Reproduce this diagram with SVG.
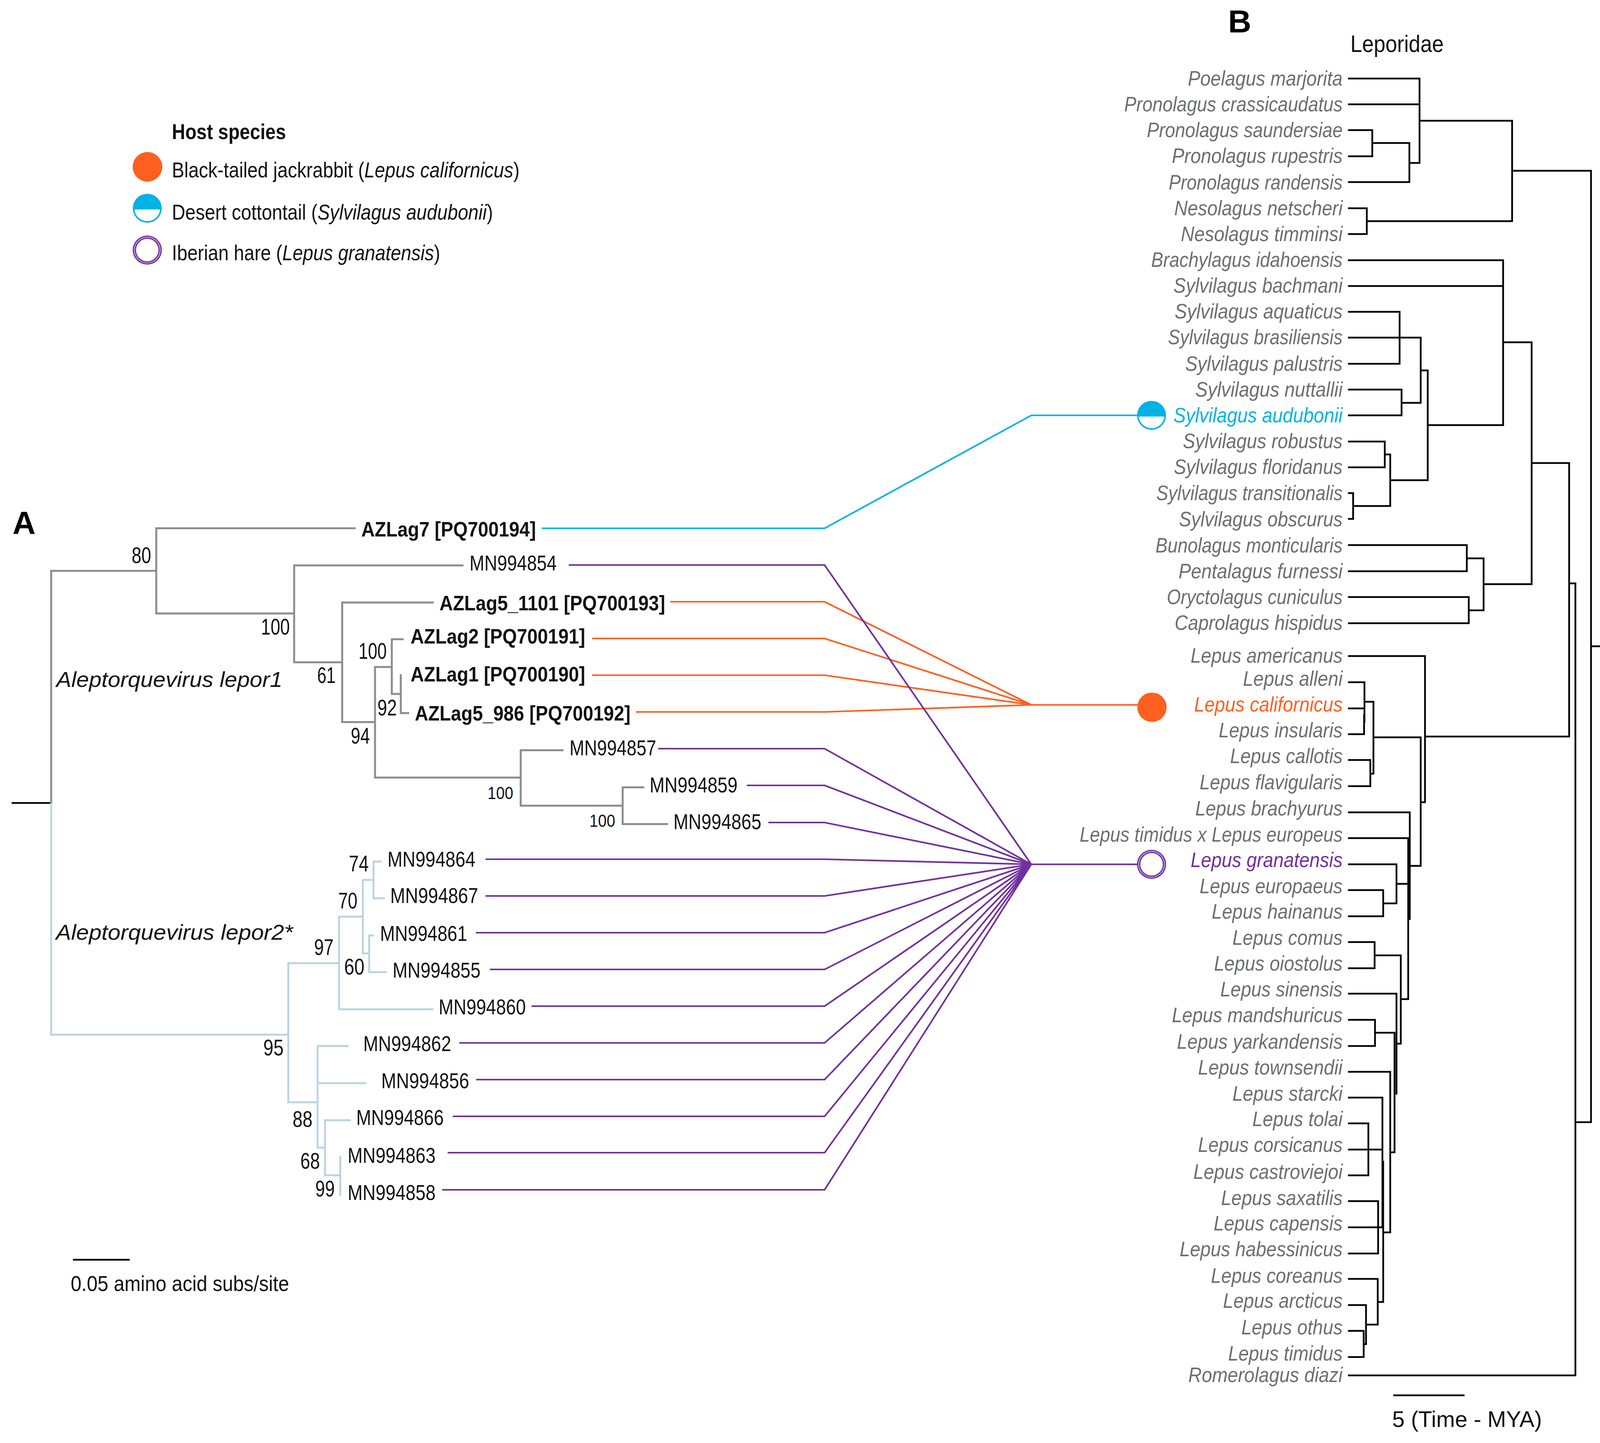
<svg xmlns="http://www.w3.org/2000/svg" xmlns:xlink="http://www.w3.org/1999/xlink" width="4142" height="3693" viewBox="0 0 4142 3693">
<style>
text{font-family:"Liberation Sans",Arial,sans-serif;fill:#111}
.sp{font-size:53px;font-style:italic;fill:#6d6e71}
.mn{font-size:56px}
.az{font-size:54px;font-weight:bold}
.num{font-size:57px}
.sm{font-size:44px}
.lg{font-size:55px}
.vir{font-size:56px;font-style:italic}
.pan{font-size:82px;font-weight:bold;fill:#000}
.br{fill:none;stroke-linecap:square;stroke-linejoin:miter}
.gray{stroke:#8c8c8c;stroke-width:5}
.pale{stroke:#bcd4de;stroke-width:5}
.blk{stroke:#000;stroke-width:4.5}
.ln{fill:none;stroke-width:4.2;stroke-linejoin:miter}
.cy{stroke:#00b2e6}.or{stroke:#ff5f1f}.pu{stroke:#7030a0}
</style>
<defs>
<g id="half"><circle r="35" fill="#fff" stroke="#00b2e6" stroke-width="4"/><path d="M-37 3A37 37 0 0 1 37 3Z" fill="#00b2e6"/></g>
<g id="ring"><circle r="33" fill="#fff" stroke="#7030a0" stroke-width="8.5"/><circle r="33" fill="none" stroke="#d2b6e2" stroke-width="2"/></g>
</defs>
<rect width="4142" height="3693" fill="#fff"/>

<g id="connectors">
<path class="br blk" d="M32 2055H131M189 3224H330M3569 3571H3747"/>
<path class="br gray" d="M131 2055V1461H400M400 1352V1570M400 1352H908M400 1570H753M753 1447V1695M753 1447H1184M753 1695H876M876 1542V1848M876 1542H1108M876 1848H960M960 1707V1990M960 1707H1003M1003 1636V1776M1003 1636H1031M1003 1776H1026M1026 1728V1825H1045M960 1990H1333M1333 1920V2062M1333 1920H1440M1333 2062H1594M1594 2015V2109M1594 2015H1647M1594 2109H1708"/>
<path class="br pale" d="M131 2058V2648H738M738 2465V2821M738 2465H868M868 2346V2583H1107M868 2346H929M929 2252V2440M929 2252H956M956 2205V2299M956 2205H974M956 2299H983M929 2440H945M945 2394V2488M945 2394H955M945 2488H988M738 2821H813M813 2677V2937M813 2677H890M813 2772H935M813 2937H832M832 2867V3008M832 2867H895M832 3008H871M871 2960V3059"/>
<path class="br blk" d="M3453 201H3634V417M3453 267H3634M3453 333H3513V400H3453M3513 366H3608V466H3453M3608 417H3634M3634 309H3871V566M3453 533H3499V599H3453M3499 566H3871M3871 437H4073V2872H4033M4073 1654H4114M3453 666H3848V1088M3453 732H3848M3848 1088H3655M3848 876H3921V1495M3453 798H3583V931H3453M3453 864H3637V1031M3453 997H3588V1063H3453M3588 1031H3637M3637 948H3655V1229M3655 1229H3559M3559 1163V1295M3453 1130H3545V1196H3453M3545 1163H3559M3453 1262H3464V1328H3453M3464 1295H3559M3453 1395H3755V1462H3453M3755 1429H3798V1562M3453 1528H3760V1595H3453M3760 1562H3798M3798 1495H3921M3921 1185H4017V1885H3648M4017 1493H4033V3520H3453M3453 1679H3648V2053H3637M3637 1887V2216M3637 1887H3516M3516 1796V1980M3453 1746H3493V1848M3453 1813H3493M3453 1879H3492V1830M3493 1796H3516M3453 1945H3508V2012H3453M3508 1980H3516M3637 2216H3608M3453 2079H3609V2352M3453 2145H3605V2557M3453 2212H3575V2312M3575 2262H3606M3453 2278H3541V2345H3453M3541 2312H3575M3453 2411H3519V2478H3453M3519 2445H3586V2671M3586 2557H3605M3586 2671H3575M3453 2543H3575V2799M3453 2610H3520V2677H3453M3520 2643H3570M3570 2643V2949M3453 2743H3559V3154M3559 2949H3570M3453 2809H3539V3140M3453 2942H3539M3453 2875H3503V3008H3453M3541 2973V3332M3541 3154H3559M3453 3074H3528V3208H3453M3453 3141H3541M3453 3273H3527V3390M3527 3332H3541M3453 3340H3497V3440M3497 3390H3527M3453 3406H3491V3473H3453M3491 3440H3497"/>
<path class="ln cy" d="M1387 1352H2111L2640 1063H2912"/>
<path class="ln or" d="M1716 1540H2111L2640 1804M1516 1634H2111L2640 1804M1516 1728H2111L2640 1804M1628 1822H2111L2640 1804H2912"/>
<path class="ln pu" d="M1456 1446H2111L2640 2212M1685 1916H2111L2640 2212M1912 2010H2111L2640 2212M1967 2105H2111L2640 2212M1243 2199H2111L2640 2212M1243 2293H2111L2640 2212M1218 2387H2111L2640 2212M1254 2481H2111L2640 2212M1361 2575H2111L2640 2212M1176 2669H2111L2640 2212M1219 2763H2111L2640 2212M1159 2857H2111L2640 2212M1146 2950H2111L2640 2212M1132 3045H2111L2640 2212M2640 2212H2915"/>
</g>

<g id="panel-labels">
<text class="pan" x="32" y="1366">A</text>
<text class="pan" x="3144" y="83">B</text>
<text x="3457" y="133" font-size="61" textLength="239" lengthAdjust="spacingAndGlyphs">Leporidae</text>
<text x="3564" y="3652" font-size="57.5">5 (Time - MYA)</text>
<text x="181" y="3304" class="lg" textLength="559" lengthAdjust="spacingAndGlyphs">0.05 amino acid subs/site</text>
<text x="144" y="1758" class="vir" textLength="579" lengthAdjust="spacingAndGlyphs">Aleptorquevirus lepor1</text>
<text x="143" y="2405" class="vir" textLength="607" lengthAdjust="spacingAndGlyphs">Aleptorquevirus lepor2*</text>
</g>

<g id="legend">
<text x="440" y="356" class="lg" font-weight="bold" textLength="292" lengthAdjust="spacingAndGlyphs">Host species</text>
<circle cx="377.5" cy="427" r="38" fill="#ff5f1f"/>
<use xlink:href="#half" href="#half" x="377" y="533"/>
<use xlink:href="#ring" href="#ring" x="377" y="640"/>
<text class="lg" transform="translate(440 454) scale(.8667 1)">Black-tailed jackrabbit (<tspan font-style="italic">Lepus californicus</tspan>)</text>
<text class="lg" transform="translate(440 562) scale(.8647 1)">Desert cottontail (<tspan font-style="italic">Sylvilagus audubonii</tspan>)</text>
<text class="lg" transform="translate(440 666) scale(.8644 1)">Iberian hare (<tspan font-style="italic">Lepus granatensis</tspan>)</text>
</g>

<g id="host-markers">
<g id="host-cottontail"><use xlink:href="#half" href="#half" x="2948" y="1063"/></g>
<g id="host-jackrabbit"><circle cx="2949" cy="1810" r="37.5" fill="#ff5f1f"/></g>
<g id="host-hare"><use xlink:href="#ring" href="#ring" x="2948" y="2212"/></g>
</g>

<g id="support-values">
<text class="num" x="337" y="1441" textLength="50" lengthAdjust="spacingAndGlyphs">80</text>
<text class="num" x="668" y="1624" textLength="74" lengthAdjust="spacingAndGlyphs">100</text>
<text class="num" x="812" y="1748" textLength="47" lengthAdjust="spacingAndGlyphs">61</text>
<text class="num" x="918" y="1686" textLength="72" lengthAdjust="spacingAndGlyphs">100</text>
<text class="num" x="966" y="1831" textLength="50" lengthAdjust="spacingAndGlyphs">92</text>
<text class="num" x="898" y="1903" textLength="49" lengthAdjust="spacingAndGlyphs">94</text>
<text class="sm" x="1248" y="2045" textLength="66" lengthAdjust="spacingAndGlyphs">100</text>
<text class="sm" x="1509" y="2116" textLength="66" lengthAdjust="spacingAndGlyphs">100</text>
<text class="num" x="893" y="2230" textLength="51" lengthAdjust="spacingAndGlyphs">74</text>
<text class="num" x="866" y="2325" textLength="49" lengthAdjust="spacingAndGlyphs">70</text>
<text class="num" x="804" y="2444" textLength="50" lengthAdjust="spacingAndGlyphs">97</text>
<text class="num" x="881" y="2494" textLength="52" lengthAdjust="spacingAndGlyphs">60</text>
<text class="num" x="674" y="2701" textLength="52" lengthAdjust="spacingAndGlyphs">95</text>
<text class="num" x="749" y="2884" textLength="51" lengthAdjust="spacingAndGlyphs">88</text>
<text class="num" x="769" y="2991" textLength="50" lengthAdjust="spacingAndGlyphs">68</text>
<text class="num" x="807" y="3062" textLength="50" lengthAdjust="spacingAndGlyphs">99</text>
</g>

<g id="tips-a">
<g id="AZLag7"><text class="az" x="925" y="1373" textLength="447" lengthAdjust="spacingAndGlyphs">AZLag7 [PQ700194]</text></g>
<g id="MN994854"><text class="mn" x="1202" y="1460" textLength="223" lengthAdjust="spacingAndGlyphs">MN994854</text></g>
<g id="AZLag5_1101"><text class="az" x="1125" y="1562" textLength="578" lengthAdjust="spacingAndGlyphs">AZLag5_1101 [PQ700193]</text></g>
<g id="AZLag2"><text class="az" x="1051" y="1647" textLength="447" lengthAdjust="spacingAndGlyphs">AZLag2 [PQ700191]</text></g>
<g id="AZLag1"><text class="az" x="1051" y="1744" textLength="447" lengthAdjust="spacingAndGlyphs">AZLag1 [PQ700190]</text></g>
<g id="AZLag5_986"><text class="az" x="1062" y="1844" textLength="552" lengthAdjust="spacingAndGlyphs">AZLag5_986 [PQ700192]</text></g>
<g id="MN994857"><text class="mn" x="1458" y="1933" textLength="222" lengthAdjust="spacingAndGlyphs">MN994857</text></g>
<g id="MN994859"><text class="mn" x="1663" y="2028" textLength="225" lengthAdjust="spacingAndGlyphs">MN994859</text></g>
<g id="MN994865"><text class="mn" x="1724" y="2122" textLength="225" lengthAdjust="spacingAndGlyphs">MN994865</text></g>
<g id="MN994864"><text class="mn" x="992" y="2218" textLength="225" lengthAdjust="spacingAndGlyphs">MN994864</text></g>
<g id="MN994867"><text class="mn" x="999" y="2311" textLength="225" lengthAdjust="spacingAndGlyphs">MN994867</text></g>
<g id="MN994861"><text class="mn" x="973" y="2408" textLength="223" lengthAdjust="spacingAndGlyphs">MN994861</text></g>
<g id="MN994855"><text class="mn" x="1005" y="2502" textLength="225" lengthAdjust="spacingAndGlyphs">MN994855</text></g>
<g id="MN994860"><text class="mn" x="1123" y="2596" textLength="223" lengthAdjust="spacingAndGlyphs">MN994860</text></g>
<g id="MN994862"><text class="mn" x="930" y="2690" textLength="225" lengthAdjust="spacingAndGlyphs">MN994862</text></g>
<g id="MN994856"><text class="mn" x="976" y="2785" textLength="225" lengthAdjust="spacingAndGlyphs">MN994856</text></g>
<g id="MN994866"><text class="mn" x="912" y="2879" textLength="224" lengthAdjust="spacingAndGlyphs">MN994866</text></g>
<g id="MN994863"><text class="mn" x="890" y="2976" textLength="225" lengthAdjust="spacingAndGlyphs">MN994863</text></g>
<g id="MN994858"><text class="mn" x="890" y="3071" textLength="225" lengthAdjust="spacingAndGlyphs">MN994858</text></g>
</g>

<g id="tips-b">
<g id="t01"><text class="sp" x="3041" y="219" textLength="396" lengthAdjust="spacingAndGlyphs">Poelagus marjorita</text></g>
<g id="t02"><text class="sp" x="2878" y="285" textLength="559" lengthAdjust="spacingAndGlyphs">Pronolagus crassicaudatus</text></g>
<g id="t03"><text class="sp" x="2936" y="351" textLength="501" lengthAdjust="spacingAndGlyphs">Pronolagus saundersiae</text></g>
<g id="t04"><text class="sp" x="3000" y="417" textLength="437" lengthAdjust="spacingAndGlyphs">Pronolagus rupestris</text></g>
<g id="t05"><text class="sp" x="2992" y="485" textLength="445" lengthAdjust="spacingAndGlyphs">Pronolagus randensis</text></g>
<g id="t06"><text class="sp" x="3006" y="551" textLength="431" lengthAdjust="spacingAndGlyphs">Nesolagus netscheri</text></g>
<g id="t07"><text class="sp" x="3023" y="617" textLength="414" lengthAdjust="spacingAndGlyphs">Nesolagus timminsi</text></g>
<g id="t08"><text class="sp" x="2947" y="683" textLength="490" lengthAdjust="spacingAndGlyphs">Brachylagus idahoensis</text></g>
<g id="t09"><text class="sp" x="3004" y="749" textLength="433" lengthAdjust="spacingAndGlyphs">Sylvilagus bachmani</text></g>
<g id="t10"><text class="sp" x="3007" y="815" textLength="430" lengthAdjust="spacingAndGlyphs">Sylvilagus aquaticus</text></g>
<g id="t11"><text class="sp" x="2990" y="881" textLength="447" lengthAdjust="spacingAndGlyphs">Sylvilagus brasiliensis</text></g>
<g id="t12"><text class="sp" x="3034" y="949" textLength="403" lengthAdjust="spacingAndGlyphs">Sylvilagus palustris</text></g>
<g id="t13"><text class="sp" x="3060" y="1015" textLength="377" lengthAdjust="spacingAndGlyphs">Sylvilagus nuttallii</text></g>
<g id="t14"><text class="sp" x="3004" y="1081" textLength="433" lengthAdjust="spacingAndGlyphs" style="fill:#00b2e6">Sylvilagus audubonii</text></g>
<g id="t15"><text class="sp" x="3028" y="1147" textLength="409" lengthAdjust="spacingAndGlyphs">Sylvilagus robustus</text></g>
<g id="t16"><text class="sp" x="3005" y="1213" textLength="432" lengthAdjust="spacingAndGlyphs">Sylvilagus floridanus</text></g>
<g id="t17"><text class="sp" x="2960" y="1280" textLength="477" lengthAdjust="spacingAndGlyphs">Sylvilagus transitionalis</text></g>
<g id="t18"><text class="sp" x="3018" y="1347" textLength="419" lengthAdjust="spacingAndGlyphs">Sylvilagus obscurus</text></g>
<g id="t19"><text class="sp" x="2958" y="1414" textLength="479" lengthAdjust="spacingAndGlyphs">Bunolagus monticularis</text></g>
<g id="t20"><text class="sp" x="3017" y="1480" textLength="420" lengthAdjust="spacingAndGlyphs">Pentalagus furnessi</text></g>
<g id="t21"><text class="sp" x="2987" y="1546" textLength="450" lengthAdjust="spacingAndGlyphs">Oryctolagus cuniculus</text></g>
<g id="t22"><text class="sp" x="3007" y="1612" textLength="430" lengthAdjust="spacingAndGlyphs">Caprolagus hispidus</text></g>
<g id="t23"><text class="sp" x="3048" y="1696" textLength="389" lengthAdjust="spacingAndGlyphs">Lepus americanus</text></g>
<g id="t24"><text class="sp" x="3182" y="1755" textLength="255" lengthAdjust="spacingAndGlyphs">Lepus alleni</text></g>
<g id="t25"><text class="sp" x="3057" y="1821" textLength="380" lengthAdjust="spacingAndGlyphs" style="fill:#ff5f1f">Lepus californicus</text></g>
<g id="t26"><text class="sp" x="3120" y="1887" textLength="317" lengthAdjust="spacingAndGlyphs">Lepus insularis</text></g>
<g id="t27"><text class="sp" x="3149" y="1953" textLength="288" lengthAdjust="spacingAndGlyphs">Lepus callotis</text></g>
<g id="t28"><text class="sp" x="3071" y="2020" textLength="366" lengthAdjust="spacingAndGlyphs">Lepus flavigularis</text></g>
<g id="t29"><text class="sp" x="3060" y="2087" textLength="377" lengthAdjust="spacingAndGlyphs">Lepus brachyurus</text></g>
<g id="t30"><text class="sp" x="2764" y="2154" textLength="673" lengthAdjust="spacingAndGlyphs">Lepus timidus x Lepus europeus</text></g>
<g id="t31"><text class="sp" x="3048" y="2219" textLength="389" lengthAdjust="spacingAndGlyphs" style="fill:#7030a0">Lepus granatensis</text></g>
<g id="t32"><text class="sp" x="3071" y="2286" textLength="366" lengthAdjust="spacingAndGlyphs">Lepus europaeus</text></g>
<g id="t33"><text class="sp" x="3102" y="2351" textLength="335" lengthAdjust="spacingAndGlyphs">Lepus hainanus</text></g>
<g id="t34"><text class="sp" x="3155" y="2418" textLength="282" lengthAdjust="spacingAndGlyphs">Lepus comus</text></g>
<g id="t35"><text class="sp" x="3108" y="2484" textLength="329" lengthAdjust="spacingAndGlyphs">Lepus oiostolus</text></g>
<g id="t36"><text class="sp" x="3124" y="2550" textLength="313" lengthAdjust="spacingAndGlyphs">Lepus sinensis</text></g>
<g id="t37"><text class="sp" x="3000" y="2616" textLength="437" lengthAdjust="spacingAndGlyphs">Lepus mandshuricus</text></g>
<g id="t38"><text class="sp" x="3013" y="2684" textLength="424" lengthAdjust="spacingAndGlyphs">Lepus yarkandensis</text></g>
<g id="t39"><text class="sp" x="3067" y="2750" textLength="370" lengthAdjust="spacingAndGlyphs">Lepus townsendii</text></g>
<g id="t40"><text class="sp" x="3155" y="2817" textLength="282" lengthAdjust="spacingAndGlyphs">Lepus starcki</text></g>
<g id="t41"><text class="sp" x="3206" y="2882" textLength="231" lengthAdjust="spacingAndGlyphs">Lepus tolai</text></g>
<g id="t42"><text class="sp" x="3067" y="2948" textLength="370" lengthAdjust="spacingAndGlyphs">Lepus corsicanus</text></g>
<g id="t43"><text class="sp" x="3055" y="3017" textLength="382" lengthAdjust="spacingAndGlyphs">Lepus castroviejoi</text></g>
<g id="t44"><text class="sp" x="3126" y="3084" textLength="311" lengthAdjust="spacingAndGlyphs">Lepus saxatilis</text></g>
<g id="t45"><text class="sp" x="3107" y="3149" textLength="330" lengthAdjust="spacingAndGlyphs">Lepus capensis</text></g>
<g id="t46"><text class="sp" x="3020" y="3215" textLength="417" lengthAdjust="spacingAndGlyphs">Lepus habessinicus</text></g>
<g id="t47"><text class="sp" x="3100" y="3283" textLength="337" lengthAdjust="spacingAndGlyphs">Lepus coreanus</text></g>
<g id="t48"><text class="sp" x="3131" y="3347" textLength="306" lengthAdjust="spacingAndGlyphs">Lepus arcticus</text></g>
<g id="t49"><text class="sp" x="3178" y="3415" textLength="259" lengthAdjust="spacingAndGlyphs">Lepus othus</text></g>
<g id="t50"><text class="sp" x="3144" y="3482" textLength="293" lengthAdjust="spacingAndGlyphs">Lepus timidus</text></g>
<g id="t51"><text class="sp" x="3042" y="3537" textLength="395" lengthAdjust="spacingAndGlyphs">Romerolagus diazi</text></g>
</g>
</svg>
